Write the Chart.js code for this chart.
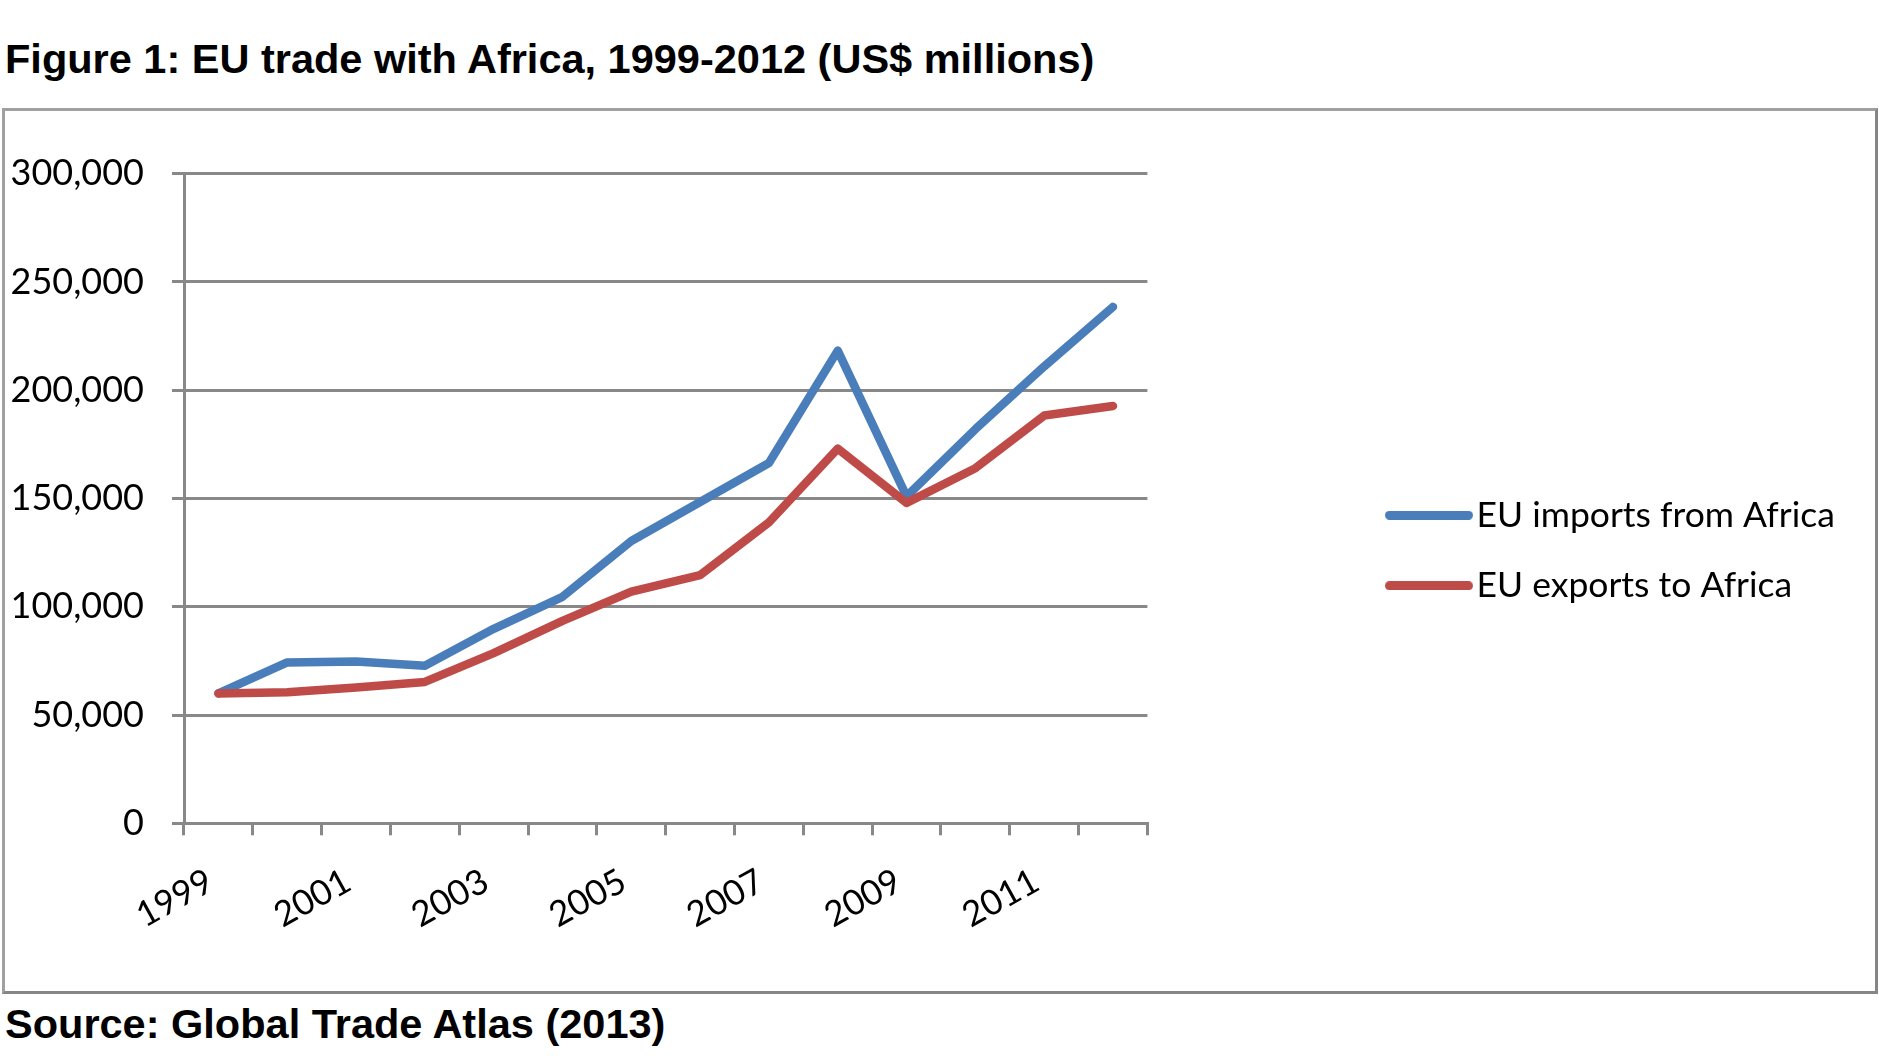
<!DOCTYPE html>
<html><head><meta charset="utf-8">
<script src="https://cdn.jsdelivr.net/npm/chart.js@4"></script>
<style>
html,body{margin:0;padding:0;background:#fff;}
body{width:1879px;height:1056px;position:relative;overflow:hidden;}
.t{position:absolute;font-family:"Liberation Sans",Arial,sans-serif;font-weight:bold;font-size:41.5px;line-height:41.5px;color:#000;white-space:nowrap;}
#title{left:5px;top:38px;}
#source{left:5px;top:1003px;}
#box{position:absolute;left:2px;top:108px;width:1876px;height:886px;box-sizing:border-box;border:3px solid #868686;border-top-color:#a0a0a0;border-left-color:#a0a0a0;}
#wrap{position:absolute;left:5px;top:111px;width:1870px;height:880px;}
</style></head>
<body>
<div id="title" class="t">Figure 1: EU trade with Africa, 1999-2012 (US$ millions)</div>
<div id="box"></div>
<div id="wrap"><canvas id="c" width="1870" height="880"></canvas></div>
<div id="source" class="t">Source: Global Trade Atlas (2013)</div>
<script>
// ---- data ----
const years = ['1999','2000','2001','2002','2003','2004','2005','2006','2007','2008','2009','2010','2011','2012'];
const shownYearLabels = ['1999','2001','2003','2005','2007','2009','2011'];
const importsFromAfrica = [60000, 74300, 74700, 72800, 89800, 104600, 130400, 148400, 166400, 218300, 151000, 182000, 211000, 238500];
const exportsToAfrica   = [60000, 60500, 62700, 65300, 78600, 93500, 107000, 114600, 139000, 173000, 148000, 164000, 188300, 192700];
const seriesNames = ['EU imports from Africa', 'EU exports to Africa'];
const seriesColors = ['#4a7ebb', '#be4b48'];
const yMin = 0, yMax = 300000, yStep = 50000;

// ---- layout constants ----
const CANVAS_W = 1870, CANVAS_H = 880;
const PAD_TOP = 62.7, PAD_BOTTOM = 63;
const Y_AXIS_W = 179;
const PLOT_RIGHT = 1142.4;
const X_AXIS_H = CANVAS_H - PAD_TOP - PAD_BOTTOM - (712.3 - 62.7);
const LEGEND_PAD = 35;
const LEGEND_FONT = 35.5;
const SYM_W = 88, SYM_H = 9, SYM_SLOT = 59.5;
const LEGEND_LEFT = 1380 - SYM_SLOT / 2 + SYM_W / 2 - LEGEND_PAD;
const LEGEND_TOP = 404.3 - LEGEND_FONT / 2 - LEGEND_PAD;

const GRID = '#888888';
const FONT = 'Lato';

function makeLegendSymbol(color) {
  const c = document.createElement('canvas');
  c.width = SYM_W; c.height = SYM_H;
  const g = c.getContext('2d');
  g.strokeStyle = color; g.lineWidth = SYM_H; g.lineCap = 'round';
  g.beginPath(); g.moveTo(SYM_H / 2, SYM_H / 2); g.lineTo(SYM_W - SYM_H / 2, SYM_H / 2); g.stroke();
  return c;
}
const legendSymbols = seriesColors.map(makeLegendSymbol);

const legendPlacer = {
  id: 'legendPlacer',
  beforeLayout(chart) {
    const lg = chart.legend;
    if (lg && !lg._patched) {
      const orig = lg.fit;
      lg.fit = function () { orig.call(this); this.width = CANVAS_W - PLOT_RIGHT; };
      lg._patched = true;
    }
  },
  afterLayout(chart) {
    const lg = chart.legend;
    if (lg) { lg.left = LEGEND_LEFT; lg.top = LEGEND_TOP; }
  }
};

new Chart(document.getElementById('c'), {
  type: 'line',
  data: {
    labels: years,
    datasets: [
      { label: seriesNames[0], data: importsFromAfrica, borderColor: seriesColors[0], backgroundColor: seriesColors[0],
        borderWidth: 8.5, pointRadius: 0, pointHoverRadius: 0, tension: 0, fill: false,
        borderCapStyle: 'round', borderJoinStyle: 'round', order: 1 },
      { label: seriesNames[1], data: exportsToAfrica, borderColor: seriesColors[1], backgroundColor: seriesColors[1],
        borderWidth: 8.5, pointRadius: 0, pointHoverRadius: 0, tension: 0, fill: false,
        borderCapStyle: 'round', borderJoinStyle: 'round', order: 0 }
    ]
  },
  options: {
    responsive: false,
    animation: false,
    devicePixelRatio: 1,
    layout: { padding: { top: PAD_TOP, bottom: PAD_BOTTOM, left: 0, right: 0 } },
    plugins: {
      tooltip: { enabled: false },
      title: { display: false },
      legend: {
        position: 'right',
        align: 'start',
        labels: {
          font: { family: FONT, size: LEGEND_FONT },
          color: '#000',
          usePointStyle: true,
          pointStyleWidth: SYM_SLOT,
          boxWidth: SYM_SLOT,
          boxHeight: SYM_H,
          padding: LEGEND_PAD,
          sort: (a, b) => a.datasetIndex - b.datasetIndex,
          generateLabels: (chart) => Chart.defaults.plugins.legend.labels.generateLabels(chart)
            .map(it => Object.assign(it, { lineWidth: 0, pointStyle: legendSymbols[it.datasetIndex] }))
        }
      }
    },
    scales: {
      x: {
        offset: true,
        grid: { display: true, drawOnChartArea: false, drawTicks: true, tickLength: 12, offset: true, color: GRID, lineWidth: 3 },
        border: { display: true, color: GRID, width: 3 },
        ticks: {
          autoSkip: false, minRotation: 29, maxRotation: 29, padding: 25, labelOffset: -8,
          color: '#000', font: { family: FONT, size: 35 },
          callback: function (v, i) { const l = years[i]; return shownYearLabels.includes(l) ? l : ''; }
        },
        afterFit: (s) => { s.height = X_AXIS_H; }
      },
      y: {
        min: yMin, max: yMax,
        grid: { color: GRID, lineWidth: 3, drawTicks: true, tickLength: 12 },
        border: { display: true, color: GRID, width: 3 },
        ticks: {
          stepSize: yStep, padding: 28, color: '#000', font: { family: FONT, size: 36 },
          callback: (v) => v.toLocaleString('en-US')
        },
        afterFit: (s) => { s.width = Y_AXIS_W; }
      }
    }
  },
  plugins: [legendPlacer]
});
</script>
</body></html>
